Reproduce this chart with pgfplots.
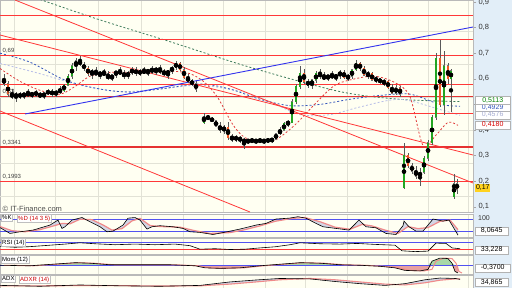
\documentclass[border=0pt]{standalone}
\usepackage{fontspec}
\setmainfont{Liberation Sans}
\usepackage{pgfplots}
\usepackage{pgfplotstable}
\pgfplotsset{compat=1.18}

\definecolor{bgc}{HTML}{FFFFF2}
\definecolor{gridc}{HTML}{E2E2D6}
\definecolor{redl}{HTML}{FF3838}
\definecolor{upcol}{HTML}{22A522}
\definecolor{dncol}{HTML}{F05A28}
\definecolor{bluel}{HTML}{3333EE}
\definecolor{greendash}{HTML}{3C7A5A}
\definecolor{bluedash}{HTML}{3355BB}
\definecolor{lavdash}{HTML}{B8BEE8}
\definecolor{reddash}{HTML}{E03A3A}
\definecolor{rightbg}{HTML}{E2EEF8}
\definecolor{pinkc}{HTML}{F08A8A}
\definecolor{momg}{HTML}{A8D8A8}
\definecolor{momr}{HTML}{E8A0A0}
\definecolor{yel}{HTML}{FFD21F}
\definecolor{shade}{HTML}{A8AEDA}

\pgfplotstableread{
x o h l c
16 .53 .55 .51 .54
24 .53 .55 .52 .545
32 .535 .55 .525 .545
44 .53 .55 .52 .545
48 .545 .56 .535 .55
56 .54 .555 .53 .55
60 .55 .57 .54 .555
64 .555 .58 .55 .575
68 .575 .62 .57 .61
72 .61 .66 .60 .65
76 .65 .68 .63 .67
92 .62 .64 .60 .63
100 .615 .63 .60 .625
112 .60 .62 .59 .615
116 .615 .635 .605 .63
128 .61 .63 .60 .625
132 .625 .645 .615 .635
140 .62 .64 .61 .63
148 .625 .64 .61 .635
156 .63 .645 .615 .64
168 .62 .635 .60 .63
172 .63 .65 .62 .645
176 .645 .67 .635 .66
204 .43 .465 .425 .45
224 .40 .42 .385 .41
236 .365 .38 .355 .37
248 .355 .365 .345 .36
256 .355 .365 .345 .36
264 .355 .365 .345 .36
272 .358 .37 .35 .365
276 .365 .39 .36 .385
280 .385 .41 .38 .40
284 .40 .43 .395 .425
288 .425 .44 .41 .43
292 .43 .52 .43 .51
296 .51 .58 .50 .57
300 .57 .65 .56 .62
312 .575 .60 .56 .595
316 .595 .63 .585 .62
328 .60 .62 .59 .615
336 .605 .62 .59 .615
340 .615 .635 .60 .625
348 .605 .62 .59 .61
352 .61 .64 .60 .635
356 .635 .675 .63 .66
368 .615 .63 .60 .62
376 .595 .61 .585 .60
384 .585 .60 .57 .59
396 .545 .575 .535 .565
404 .175 .35 .17 .30
420 .22 .25 .18 .235
424 .235 .30 .23 .29
428 .29 .36 .28 .35
432 .35 .46 .34 .45
436 .45 .70 .44 .68
444 .50 .71 .46 .65
451 .60 .64 .47 .63
454 .14 .23 .13 .19
}\tabUp

\pgfplotstableread{
x o h l c
4 .60 .62 .57 .58
8 .58 .59 .53 .54
12 .54 .56 .52 .53
20 .54 .55 .52 .53
28 .545 .56 .53 .535
36 .545 .555 .53 .54
40 .54 .55 .525 .53
52 .55 .56 .53 .54
80 .67 .69 .65 .655
84 .655 .665 .63 .64
88 .64 .65 .61 .62
96 .63 .645 .61 .615
104 .625 .64 .61 .615
108 .615 .63 .595 .60
120 .63 .645 .615 .62
124 .62 .635 .60 .61
136 .635 .645 .61 .62
144 .63 .645 .62 .625
152 .635 .65 .62 .63
160 .64 .655 .62 .625
164 .625 .64 .61 .62
180 .66 .665 .63 .635
184 .635 .645 .60 .605
188 .605 .62 .585 .59
192 .59 .60 .57 .58
196 .58 .59 .55 .56
208 .45 .46 .44 .445
212 .445 .45 .43 .435
216 .435 .44 .41 .415
220 .415 .43 .39 .40
228 .41 .43 .36 .37
232 .37 .385 .355 .365
240 .37 .375 .35 .36
244 .36 .37 .325 .355
252 .36 .37 .35 .355
260 .36 .37 .35 .355
268 .36 .37 .35 .358
304 .62 .64 .58 .59
308 .59 .60 .565 .575
320 .62 .64 .60 .61
324 .61 .625 .595 .60
332 .615 .63 .60 .605
344 .625 .635 .60 .605
360 .66 .665 .63 .64
364 .64 .65 .61 .615
372 .62 .625 .59 .595
380 .60 .605 .58 .585
388 .59 .595 .56 .565
392 .565 .58 .54 .545
400 .565 .57 .53 .54
408 .30 .31 .25 .26
412 .26 .27 .23 .24
416 .24 .26 .21 .22
440 .68 .75 .49 .50
448 .65 .66 .58 .60
457 .19 .21 .15 .17
}\tabDn

\pgfplotstableread{
x v
0 0.0
30 -0.05
60 0.15
75 0.25
90 0.2
110 0.05
140 0.05
170 0.05
195 -0.05
205 -0.25
220 -0.3
240 -0.25
260 -0.05
280 0.1
300 0.25
320 0.2
340 0.05
360 0.0
380 -0.1
395 -0.25
405 -0.5
420 -0.55
428 -0.4
432 0.4
440 0.7
448 0.65
452 0.2
455 -0.6
458 -0.75
}\tabMom

\pgfplotsset{
  wick/.style={only marks, mark=none, forget plot, error bars/.cd, y dir=both, y explicit, error mark=none,
    error bar style={line width=0.45pt, draw=black!65}},
  body/.style 2 args={only marks, mark=none, forget plot, error bars/.cd, y dir=both, y explicit, error mark=none,
    error bar style={line width=#1, draw=#2}},
  panel/.style={scale only axis, anchor=north west, width=473pt, xmin=0, xmax=473,
    axis background/.style={fill=bgc}, axis line style={draw=gray!55, line width=0.4pt},
    xtick={14,55,98,141,183,223,265,305,347,388,428,468}, xticklabels={}, xtick style={draw=none},
    xmajorgrids, grid style={gridc, line width=0.5pt}, ytick=\empty, clip=true},
}

\newcommand{\lab}{\fontsize{7.5}{8}\selectfont}
\newcommand{\bxf}{\fontsize{7}{8}\selectfont}
\newcommand{\sml}{\fontsize{6}{7}\selectfont}

\begin{document}
\begin{tikzpicture}
\useasboundingbox (0,0) rectangle (512pt,-288pt);
\fill[white] (0,0) rectangle (512pt,-288pt);
\fill[rightbg] (473pt,0) rectangle (512pt,-288pt);

% ---------------- main price panel
\begin{axis}[panel, at={(0pt,0pt)}, height=212pt, ymin=0.0797, ymax=0.9078,
  ytick={0.1,0.2,0.3,0.4,0.5,0.6,0.7,0.8,0.9}, ytick pos=right, yticklabel pos=right,
  ytick style={draw=gray!70, line width=0.4pt}, tick align=outside, major tick length=3pt,
  yticklabel style={font=\lab, text=black!80, xshift=-1pt},
  /pgf/number format/use comma, /pgf/number format/fixed, /pgf/number format/precision=1,
  /pgf/number format/assume math mode=true]
\pgfplotsinvokeforeach{0.7867,0.6578,0.5289,0.4,0.2711,0.1422}{
  \addplot[gridc, line width=0.5pt, forget plot] coordinates {(0,#1) (473,#1)};}
% long moving averages
\addplot[greendash, line width=0.8pt, dash pattern=on 2pt off 2pt, smooth] coordinates {
 (40,0.91) (100,0.83) (170,0.745) (250,0.645) (340,0.55) (400,0.52) (460,0.511)};
\addplot[lavdash, line width=0.8pt, dash pattern=on 2pt off 2pt, smooth] coordinates {
 (0,0.66) (40,0.62) (80,0.575) (120,0.55) (160,0.56) (200,0.575) (240,0.55) (270,0.51)
 (300,0.46) (330,0.46) (360,0.49) (400,0.52) (440,0.48) (460,0.4576)};
\addplot[bluedash, line width=0.8pt, dash pattern=on 2pt off 2pt, smooth] coordinates {
 (0,0.70) (30,0.665) (65,0.595) (100,0.56) (130,0.548) (160,0.56) (200,0.58) (230,0.56)
 (260,0.52) (290,0.495) (320,0.50) (350,0.52) (380,0.535) (410,0.54) (440,0.50) (460,0.4929)};
\addplot[reddash, line width=0.8pt, dash pattern=on 2pt off 2pt, smooth] coordinates {
 (0,0.64) (20,0.59) (40,0.555) (60,0.54) (75,0.57) (90,0.61) (110,0.625) (140,0.625)
 (170,0.63) (190,0.62) (205,0.585) (218,0.525) (233,0.42) (245,0.37) (260,0.356) (275,0.36)
 (295,0.42) (317,0.51) (335,0.575) (355,0.60) (375,0.61) (395,0.585) (410,0.53) (423,0.34)
 (436,0.38) (448,0.43) (458,0.418)};
% horizontal levels
\pgfplotsinvokeforeach{0.846,0.754,0.693,0.58,0.465,0.1993}{
  \addplot[redl, line width=0.8pt, forget plot] coordinates {(0,#1) (473,#1)};}
\addplot[redl!90!black, line width=1.4pt] coordinates {(0,0.532) (473,0.532)};
\addplot[redl!90!black, line width=1.4pt] coordinates {(0,0.3341) (473,0.3341)};
% trend lines
\addplot[redl, line width=0.8pt] coordinates {(15,0.9078) (473,0.193)};
\addplot[redl, line width=0.8pt] coordinates {(0,0.771) (473,0.3023)};
\addplot[redl, line width=0.8pt] coordinates {(0,0.4742) (250,0.0797)};
\addplot[bluel, line width=0.9pt] coordinates {(25,0.4625) (473,0.8023)};
% candles
\addplot[wick] table[x=x, y expr={(\thisrow{h}+\thisrow{l})/2}, y error expr={(\thisrow{h}-\thisrow{l})/2}] {\tabUp};
\addplot[wick] table[x=x, y expr={(\thisrow{h}+\thisrow{l})/2}, y error expr={(\thisrow{h}-\thisrow{l})/2}] {\tabDn};
\addplot[body={2.8pt}{black!55}] table[x=x, y expr={(\thisrow{o}+\thisrow{c})/2}, y error expr={abs(\thisrow{c}-\thisrow{o})/2+0.0025}] {\tabUp};
\addplot[body={2.8pt}{black!55}] table[x=x, y expr={(\thisrow{o}+\thisrow{c})/2}, y error expr={abs(\thisrow{c}-\thisrow{o})/2+0.0025}] {\tabDn};
\addplot[body={2.0pt}{upcol}] table[x=x, y expr={(\thisrow{o}+\thisrow{c})/2}, y error expr={abs(\thisrow{c}-\thisrow{o})/2+0.0008}] {\tabUp};
\addplot[body={2.0pt}{dncol}] table[x=x, y expr={(\thisrow{o}+\thisrow{c})/2}, y error expr={abs(\thisrow{c}-\thisrow{o})/2+0.0008}] {\tabDn};
% level labels
\node[anchor=south west, font=\sml, text=black!75, inner sep=0.5pt] at (axis cs:2,0.697) {0,69};
\node[anchor=south west, font=\sml, text=black!75, inner sep=0.5pt] at (axis cs:2,0.537) {0,53};
\node[anchor=south west, font=\sml, text=black!75, inner sep=0.5pt] at (axis cs:2,0.339) {0,3341};
\node[anchor=south west, font=\sml, text=black!75, inner sep=0.5pt] at (axis cs:2,0.204) {0,1993};
\node[anchor=west, font=\lab, text=black!70, inner sep=0.5pt] at (axis cs:2,0.093) {\textcopyright\ IT-Finance.com};
\end{axis}

% ---------------- stochastic
\begin{axis}[panel, at={(0pt,-214pt)}, height=23pt, ymin=-5, ymax=105]
\addplot[fill=shade, fill opacity=0.5, draw=none] coordinates {
 (0,40) (10,12) (20,20) (33,28) (50,52) (58,76) (62,36) (65,44) (72,76) (82,88) (90,68)
 (100,44) (107,20) (113,23) (123,52) (128,85) (135,88) (140,76) (147,33) (152,44) (160,49)
 (173,44) (183,36) (190,20) (200,17) (213,7) (227,20) (240,33) (256,52) (266,60) (276,81)
 (289,85) (298,92) (306,85) (316,60) (323,44) (336,36) (349,28) (359,76) (366,44) (376,39)
 (386,12) (396,7) (403,49) (404,71) (409,44) (416,23) (423,23) (433,81) (443,71) (449,76)
 (456,20) (458,4)
 (458,30) (450,76) (440,70) (428,40) (418,35) (408,45) (398,12) (385,28) (372,48) (362,55)
 (350,32) (335,42) (320,68) (305,88) (292,84) (275,70) (260,48) (245,30) (230,16) (210,12)
 (195,25) (180,42) (160,45) (150,50) (140,84) (132,72) (122,35) (112,28) (104,50) (92,78)
 (80,80) (70,58) (62,60) (55,50) (40,30) (25,20) (12,25) (0,45)};
\addplot[bluel!85, line width=0.6pt] coordinates {(0,80) (473,80)};
\addplot[bluel!85, line width=0.6pt] coordinates {(0,20) (473,20)};
\addplot[pinkc, line width=1.2pt] coordinates {
 (0,45) (12,25) (25,20) (40,30) (55,50) (62,60) (70,58) (80,80) (92,78) (104,50) (112,28)
 (122,35) (132,72) (140,84) (150,50) (160,45) (180,42) (195,25) (210,12) (230,16) (245,30)
 (260,48) (275,70) (292,84) (305,88) (320,68) (335,42) (350,32) (362,55) (372,48) (385,28)
 (398,12) (408,45) (418,35) (428,40) (440,70) (450,76) (458,30)};
\addplot[black, line width=0.6pt] coordinates {
 (0,40) (10,12) (20,20) (33,28) (50,52) (58,76) (62,36) (65,44) (72,76) (82,88) (90,68)
 (100,44) (107,20) (113,23) (123,52) (128,85) (135,88) (140,76) (147,33) (152,44) (160,49)
 (173,44) (183,36) (190,20) (200,17) (213,7) (227,20) (240,33) (256,52) (266,60) (276,81)
 (289,85) (298,92) (306,85) (316,60) (323,44) (336,36) (349,28) (359,76) (366,44) (376,39)
 (386,12) (396,7) (403,49) (404,71) (409,44) (416,23) (423,23) (433,81) (443,71) (449,76)
 (456,20) (458,4)};
\end{axis}

% ---------------- RSI
\begin{axis}[panel, at={(0pt,-238pt)}, height=16pt, ymin=0, ymax=100]
\addplot[bluel!85, line width=0.6pt] coordinates {(0,70) (473,70)};
\addplot[redl, line width=0.8pt] coordinates {(0,30) (473,30)};
\addplot[black, line width=0.6pt] coordinates {
 (0,48) (15,42) (30,46) (50,55) (65,62) (80,70) (95,64) (115,58) (135,62) (155,58) (175,62)
 (190,52) (200,30) (215,33) (230,28) (245,30) (260,38) (275,45) (290,58) (300,70) (320,64)
 (340,62) (357,66) (375,60) (395,55) (402,20) (415,15) (428,18) (436,68) (446,66) (452,38) (460,33)};
\end{axis}

% ---------------- Momentum
\begin{axis}[panel, at={(0pt,-255pt)}, height=19pt, ymin=-0.85, ymax=1]
\addplot[fill=momg, draw=none] table[x=x, y expr={max(\thisrow{v},0)}] {\tabMom} \closedcycle;
\addplot[fill=momr, draw=none] table[x=x, y expr={min(\thisrow{v},0)}] {\tabMom} \closedcycle;
\addplot[bluel!85, line width=0.6pt] coordinates {(0,0) (473,0)};
\addplot[pinkc, line width=1pt] table[x expr={\thisrow{x}+4}, y=v] {\tabMom};
\addplot[black, line width=0.6pt] table[x=x, y=v] {\tabMom};
\end{axis}

% ---------------- ADX
\begin{axis}[panel, at={(0pt,-275pt)}, height=13pt, ymin=0, ymax=60]
\addplot[fill=shade, fill opacity=0.5, draw=none] coordinates {
 (0,12) (40,8) (80,14) (120,10) (160,8) (200,12) (230,28) (256,37) (280,44) (310,42)
 (335,30) (360,20) (385,12) (405,20) (425,38) (440,46) (455,44) (460,40)
 (460,42) (455,42) (440,36) (425,24) (405,14) (385,18) (360,28) (335,38) (310,44) (280,38)
 (256,28) (230,18) (200,10) (160,9) (120,11) (80,11) (40,10) (0,10)};
\addplot[pinkc, line width=1.1pt] coordinates {
 (0,10) (40,10) (80,11) (120,11) (160,9) (200,10) (230,18) (256,28) (280,38) (310,44)
 (335,38) (360,28) (385,18) (405,14) (425,24) (440,36) (455,42) (460,42)};
\addplot[black, line width=0.6pt] coordinates {
 (0,12) (40,8) (80,14) (120,10) (160,8) (200,12) (230,28) (256,37) (280,44) (310,42)
 (335,30) (360,20) (385,12) (405,20) (425,38) (440,46) (455,44) (460,40)};
\end{axis}

% panel titles
\node[anchor=north west, font=\sml, fill=white, draw=gray!50, inner sep=1pt] at (1pt,-214.5pt) {\%K};
\node[anchor=north west, font=\sml, fill=white, draw=gray!50, text=red!80!black, inner sep=1pt] at (17pt,-214.5pt) {\%D (14 3 5)};
\node[anchor=north west, font=\sml, fill=white, draw=gray!50, inner sep=1pt] at (1pt,-238.5pt) {RSI (14)};
\node[anchor=north west, font=\sml, fill=white, draw=gray!50, inner sep=1pt] at (1pt,-255.5pt) {Mom (12)};
\node[anchor=north west, font=\sml, fill=white, draw=gray!50, inner sep=1pt] at (1pt,-275.5pt) {ADX};
\node[anchor=north west, font=\sml, fill=white, draw=gray!50, text=red!80!black, inner sep=1pt] at (19pt,-275.5pt) {ADXR (14)};

% right value boxes
\node[anchor=west, font=\bxf, fill=white, draw=gray!60, text=bluedash, inner sep=1pt, minimum width=35pt] at (475pt,-108pt) {0,4929};
\node[anchor=west, font=\bxf, fill=white, draw=gray!60, text=green!50!black, inner sep=1pt, minimum width=35pt] at (475pt,-100.5pt) {0,5113};
\node[anchor=west, font=\bxf, fill=white, draw=gray!60, text=lavdash!90!black, inner sep=1pt, minimum width=35pt] at (475pt,-115pt) {0,4576};
\node[anchor=west, font=\bxf, fill=white, draw=gray!60, text=red!85!black, inner sep=1pt, minimum width=35pt] at (475pt,-125pt) {0,4180};
\node[anchor=west, font=\bxf, fill=yel, inner sep=0.8pt] at (475pt,-188pt) {0,17};
\node[anchor=west, font=\bxf, text=black!80, inner sep=1pt] at (477pt,-218pt) {100};
\node[anchor=west, font=\bxf, fill=white, draw=gray!60, inner sep=1pt, minimum width=33pt] at (475pt,-231pt) {8,0645};
\node[anchor=west, font=\bxf, fill=white, draw=gray!60, inner sep=1pt, minimum width=33pt] at (475pt,-250pt) {33,228};
\node[anchor=west, font=\bxf, fill=white, draw=gray!60, inner sep=1pt, minimum width=35pt] at (475pt,-268pt) {-0,3700};
\node[anchor=west, font=\bxf, fill=white, draw=gray!60, inner sep=1pt, minimum width=33pt] at (475pt,-282.5pt) {34,865};
\end{tikzpicture}
\end{document}
